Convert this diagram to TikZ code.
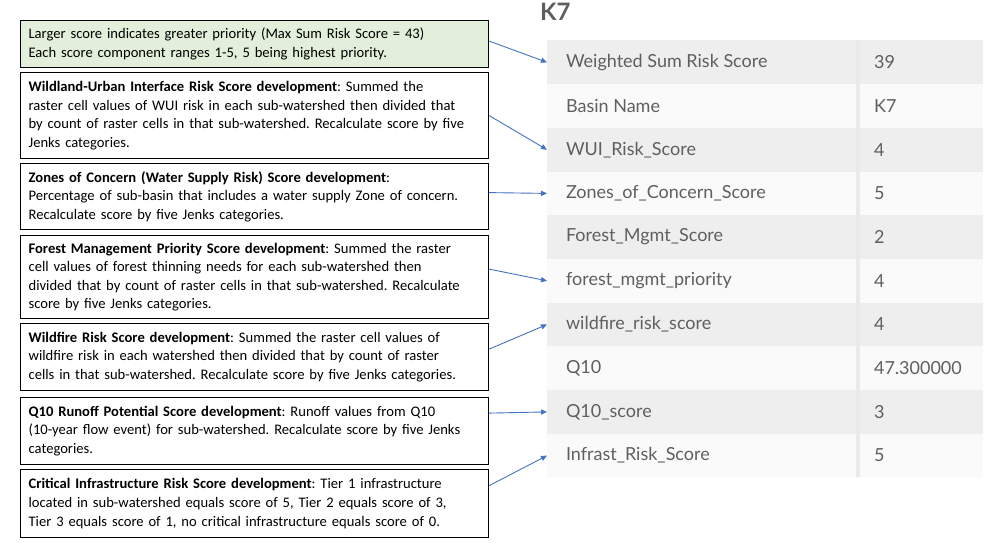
\documentclass[tikz,border=0pt]{standalone}
\usepackage{fontspec}
\setmainfont{Carlito}
\newfontfamily\tabfont{Lato}
\usetikzlibrary{arrows.meta,positioning}
\definecolor{note_green}{RGB}{226,239,218}
\definecolor{link_blue}{RGB}{68,114,196}
\definecolor{row_gray}{RGB}{238,238,238}
\definecolor{row_white}{RGB}{250,250,250}
\definecolor{tab_text}{RGB}{95,95,95}
\frenchspacing
\begin{document}
\begin{tikzpicture}[
      x=0.5pt, y=-0.5pt,
      notebox/.style={
         draw=black,
         line width=0.6pt,
         anchor=north west,
         align=left,
         text width=226pt,
         inner xsep=4pt,
         inner ysep=2pt,
         font=\fontsize{7.3}{9.3}\selectfont},
      tabrow/.style={
         anchor=north west,
         minimum width=218pt,
         minimum height=21.9pt,
         inner sep=0pt},
      tablabel/.style={
         anchor=west,
         text=tab_text,
         font=\tabfont\fontsize{9}{11}\selectfont},
      arrow_blue/.style={
        -{Triangle[length=3pt,width=2.6pt]},
        draw=link_blue,
        line width=0.45pt},
      ]
      \useasboundingbox (0,0) rectangle (1000,542);
      % notes
      \node[notebox,fill=note_green,minimum height=23.5pt] (b0) at (20,20)
        {Larger score indicates greater priority (Max Sum Risk Score = 43)\\
         Each score component ranges 1-5, 5 being highest priority.};
      \node[notebox,minimum height=43pt] (b1) at (20,72)
        {\textbf{Wildland-Urban Interface Risk Score development}: Summed the\\
         raster cell values of WUI risk in each sub-watershed then divided that\\
         by count of raster cells in that sub-watershed. Recalculate score by five\\
         Jenks categories.};
      \node[notebox,minimum height=33pt] (b2) at (20,163)
        {\textbf{Zones of Concern (Water Supply Risk) Score development}:\\
         Percentage of sub-basin that includes a water supply Zone of concern.\\
         Recalculate score by five Jenks categories.};
      \node[notebox,minimum height=41.5pt] (b3) at (20,235)
        {\textbf{Forest Management Priority Score development}: Summed the raster\\
         cell values of forest thinning needs for each sub-watershed then\\
         divided that by count of raster cells in that sub-watershed. Recalculate\\
         score by five Jenks categories.};
      \node[notebox,minimum height=33.5pt] (b4) at (20,323)
        {\textbf{Wildfire Risk Score development}: Summed the raster cell values of\\
         wildfire risk in each watershed then divided that by count of raster\\
         cells in that sub-watershed. Recalculate score by five Jenks categories.};
      \node[notebox,minimum height=33.5pt] (b5) at (20,397)
        {\textbf{Q10 Runoff Potential Score development}: Runoff values from Q10\\
         (10-year flow event) for sub-watershed. Recalculate score by five Jenks\\
         categories.};
      \node[notebox,minimum height=34pt] (b6) at (20,469)
        {\textbf{Critical Infrastructure Risk Score development}: Tier 1 infrastructure\\
         located in sub-watershed equals score of 5, Tier 2 equals score of 3,\\
         Tier 3 equals score of 1, no critical infrastructure equals score of 0.};

      % table
      \node[anchor=west,text=tab_text,font=\tabfont\bfseries\fontsize{12}{14}\selectfont] (title) at (533,12) {K7};
      \foreach \n/\lab/\val in {%
        1/Weighted Sum Risk Score/39,
        2/Basin Name/K7,
        3/WUI\_Risk\_Score/4,
        4/Zones\_of\_Concern\_Score/5,
        5/Forest\_Mgmt\_Score/2,
        6/forest\_mgmt\_priority/4,
        7/wildfire\_risk\_score/4,
        8/Q10/47.300000,
        9/Q10\_score/3,
        10/Infrast\_Risk\_Score/5}
      {
        \pgfmathsetmacro{\ytop}{40+43.7*(\n-1)}
        \pgfmathtruncatemacro{\odd}{mod(\n,2)}
        \ifnum\odd=1 \def\rowcol{row_gray}\else\def\rowcol{row_white}\fi
        \node[tabrow,fill=\rowcol] (row\n) at (547,\ytop) {};
        \node[tablabel] (lab\n) at ([xshift=6pt]row\n.west) {\lab};
        \node[tablabel] (val\n) at ([xshift=160pt]row\n.west) {\val};
      }
      \fill[row_gray!85!black!40] (856,40) rectangle (860,477);

      % links
      \draw[arrow_blue] ([yshift=1.5pt]b0.east) -- (row1.west);
      \draw[arrow_blue] (b1.east) -- (row3.west);
      \draw[arrow_blue] ([yshift=2pt]b2.east) -- (row4.west);
      \draw[arrow_blue] ([yshift=4pt]b3.east) -- (row6.west);
      \draw[arrow_blue] ([yshift=4pt]b4.east) -- (row7.west);
      \draw[arrow_blue] ([yshift=9pt]b5.east) -- (row9.west);
      \draw[arrow_blue] ([yshift=9pt]b6.east) -- (row10.west);
\end{tikzpicture}
\end{document}
